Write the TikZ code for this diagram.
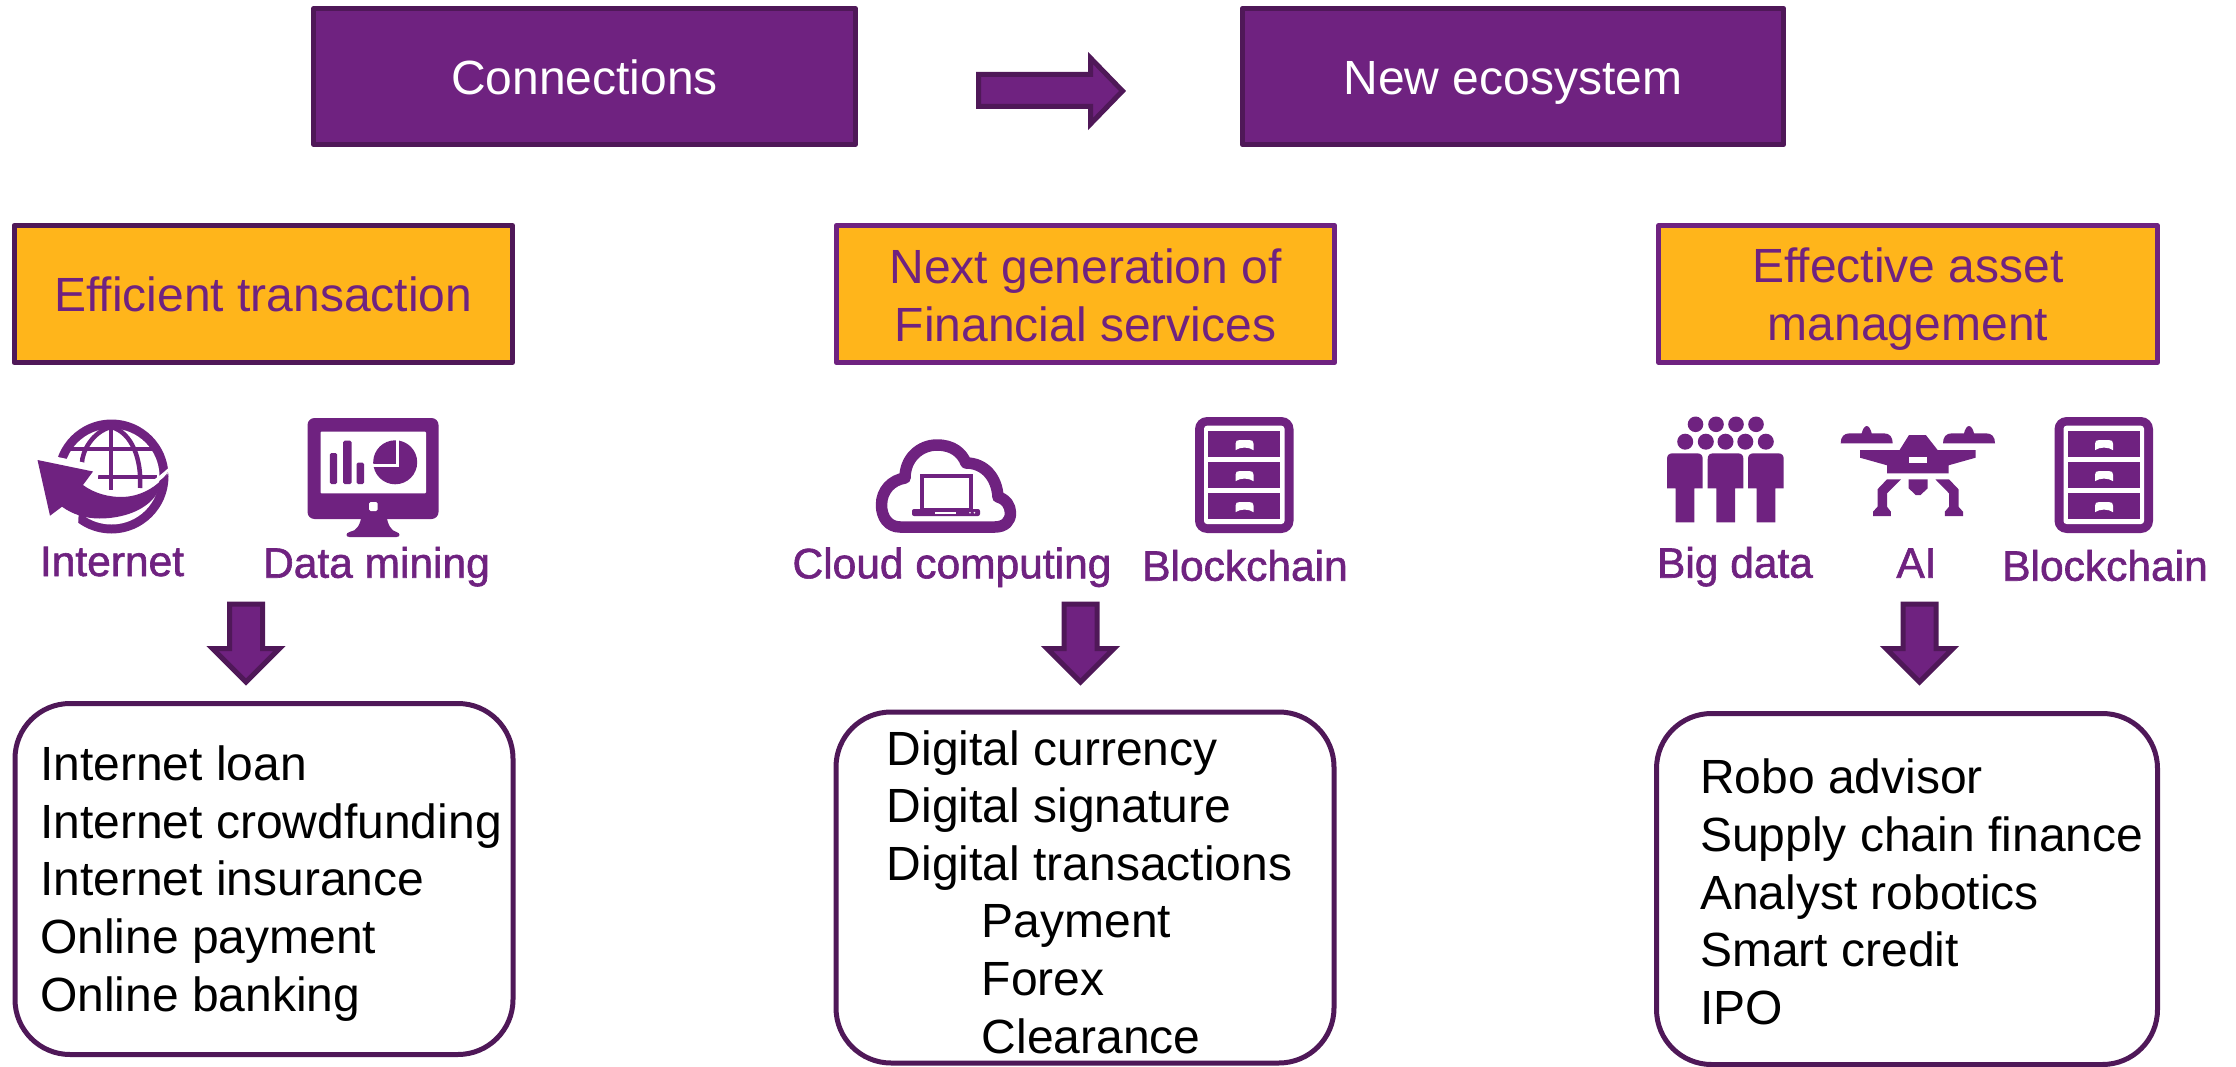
\documentclass[tikz,border=0pt]{standalone}
\usepackage{fontspec}
\setmainfont{Liberation Sans}
\newfontfamily\labfont[FakeBold=1.4]{Liberation Sans}
\definecolor{pur}{HTML}{6F2280}
\definecolor{dpur}{HTML}{4F1858}
\definecolor{yel}{HTML}{FFB51B}
\tikzset{
  x=1pt,y=-1pt,
  headbox/.style={draw=dpur,fill=pur,line width=5pt,line join=round,text=white,minimum width=541.5pt,minimum height=136pt,inner sep=0pt,font=\fontsize{48}{57.6}\selectfont,text height=36pt,text depth=0pt},
  yelbox/.style={draw=pur,fill=yel,line width=5pt,line join=round,text=pur,align=center,minimum width=498.5pt,minimum height=137pt,inner sep=0pt,font=\fontsize{48}{58}\selectfont},
  yeltext/.style={align=center,inner sep=0pt,text=pur,font=\fontsize{48}{58}\selectfont},
  listbox/.style={draw=dpur,fill=white,line width=5pt,rounded corners=55pt,minimum width=498pt,minimum height=351pt,inner sep=0pt},
  listtext/.style={anchor=west,align=left,inner sep=0pt,text=black,font=\fontsize{48}{57.6}\selectfont},
  iconlabel/.style={anchor=base,inner sep=0pt,text=pur,font=\labfont\fontsize{42.5}{48}\selectfont},
  blockarrow/.style={fill=pur,draw=dpur,line width=5pt,miter limit=10},
  pics/downblock/.style={code={
    \path[blockarrow] (-16.5,0)--(16.5,0)--(16.5,44.5)--(33.5,44.5)--(0,78)--(-33.5,44.5)--(-16.5,44.5)--cycle;
  }},
  pics/cabinet/.style={code={
    \fill[pur,rounded corners=12pt] (0,0) rectangle (98.5,116);
    \fill[white,rounded corners=3pt] (9,8.7) rectangle (89.5,107);
    \foreach \t/\b in {13.7/39.7,44.7/71,75.7/102.3}{
      \fill[pur] (13,\t) rectangle (85,\b);
      \fill[white] (40.5,\t+19.5) -- (40.5,\t+13) .. controls (40.5,\t+10) and (42,\t+9.5) .. (44,\t+9.5) -- (55,\t+9.5) .. controls (57,\t+9.5) and (58.5,\t+10) .. (58.5,\t+13) -- (58.5,\t+19.5) .. controls (54,\t+16) and (45,\t+16) .. (40.5,\t+19.5) -- cycle;
    }
  }}
}
\begin{document}
\begin{tikzpicture}
\useasboundingbox (0,0) rectangle (2236,1067);
% top boxes
\node[headbox] (conn) at (584.5,76.5) {Connections};
\node[headbox] (eco) at (1513,76.5) {New ecosystem};
\path[blockarrow] (978.5,74.5)--(1090.5,74.5)--(1090.5,58)--(1122.5,91)--(1090.5,124)--(1090.5,106.5)--(978.5,106.5)--cycle;
% yellow boxes
\node[yelbox,draw=dpur] (eff) at (263.25,294) {Efficient transaction};
\node[yelbox] (next) at (1085.5,294) {};
\node[yeltext] (nexttxt) at (1085.5,295.5) {Next generation of\\Financial services};
\node[yelbox] (asset) at (1908,294) {};
\node[yeltext] (assettxt) at (1908,299.5) {Effective asset\\management};
% globe
\begin{scope}
  \fill[pur] (111.5,476.5) circle[radius=57];
  \fill[white] (111.5,476.5) circle[radius=48];
  \begin{scope}
    \clip (111.5,476.5) circle[radius=50];
    \draw[pur,line width=4.5pt] (111,420)--(111,490);
    \draw[pur,line width=4.5pt] (60,449)--(165,449);
    \draw[pur,line width=4.5pt] (98,477)--(157,477);
    \draw[pur,line width=4.5pt] (111,427) .. controls (92,432) and (82,452) .. (82,463);
    \draw[pur,line width=4.5pt] (111,427) .. controls (132,432) and (142,460) .. (140,488);
  \end{scope}
  \fill[white] (25,450)--(100,466)--(97,482)--(80,490)--(78,526)--(70,545)--(25,545)--cycle;
  \draw[white,line width=4pt] (175,464) .. controls (168,472) and (160,478) .. (150,485);
  \fill[pur] (37.5,460) -- (93,471.5) -- (83,485) .. controls (95,494) and (110,497) .. (121,497) .. controls (140,497) and (158,487) .. (168,472) -- (156,495) .. controls (145,511) and (122,518.5) .. (99.5,518.5) .. controls (85,518.5) and (72,514) .. (62,506.7) -- (50,515.7) -- cycle;
\end{scope}
% monitor
\begin{scope}[shift={(1.5,0)}]
\fill[pur] (360,515) .. controls (359,525) and (355,531) .. (348,532) .. controls (344,533) and (344,537) .. (348,537) -- (395,537) .. controls (399,537) and (399,533) .. (395,532) .. controls (390,531) and (386,525) .. (385,515) -- cycle;
\fill[pur,rounded corners=7pt] (306,418) rectangle (437,519);
\fill[white,rounded corners=1pt] (319,431.7) rectangle (424.5,493.3);
\fill[white,rounded corners=1.5pt] (367.5,502) rectangle (376,511);
\fill[pur,rounded corners=1.5pt] (328.3,453) rectangle (335.7,484);
\fill[pur,rounded corners=1.5pt] (341.6,440.7) rectangle (350,484);
\fill[pur,rounded corners=1.5pt] (355,462.7) rectangle (362.5,484);
\fill[pur] (393.7,462.3) circle[radius=22];
\draw[white,line width=3pt] (396.4,438)--(396.4,465)--(370,465);
\end{scope}
% cloud
\draw[pur,fill=white,line width=11.5pt,line join=round] (900,527) .. controls (888,527) and (881.5,517) .. (881.5,505) .. controls (881.5,490) and (892,480) .. (905,478) .. controls (905,458) and (920,445) .. (937,445) .. controls (953,445) and (962,453) .. (966,463) .. controls (985,463) and (997,478) .. (998,497) .. controls (1006,499) and (1010.5,506) .. (1010.5,513) .. controls (1010.5,521) and (1005,527) .. (995,527) -- cycle;
\draw[pur,fill=white,line width=4pt] (921.7,476) rectangle (970.5,510);
\fill[pur,rounded corners=2pt] (912,509) rectangle (980,516);
\fill[white] (935,511.5) rectangle (956,513.5);
\fill[white] (970,512.7) circle[radius=.9] (974.4,512.7) circle[radius=.9];
% cabinets
\pic (cabA) at (1195,417) {cabinet};
\pic (cabB) at (2054.5,417) {cabinet};
% people
\foreach \cx in {1695.5,1716,1736,1756}{\fill[pur] (\cx,424.3) circle[radius=7.8];}
\foreach \cx in {1685.2,1705.8,1725.5,1745.3,1765.8}{\fill[pur] (\cx,441.7) circle[radius=8];}
\foreach \lx in {1667,1707.7,1748}{
  \fill[pur] (\lx,488.3) -- (\lx,459) .. controls (\lx,455) and (\lx+2,453.3) .. (\lx+6,453.3) -- (\lx+29.7,453.3) .. controls (\lx+33.7,453.3) and (\lx+35.7,455) .. (\lx+35.7,459) -- (\lx+35.7,488.3) -- (\lx+27.4,488.3) -- (\lx+27.4,522.3) -- (\lx+8.7,522.3) -- (\lx+8.7,488.3) -- cycle;
}
% drone
\foreach \rx in {1840.7,1943}{
  \fill[pur] (\rx,443.3) .. controls (\rx,437) and (\rx+3,433.3) .. (\rx+9,433.3) -- (\rx+21,433.3) .. controls (\rx+22,429) and (\rx+24,426) .. (\rx+26,426) .. controls (\rx+28,426) and (\rx+30,429) .. (\rx+31,433.3) -- (\rx+43,433.3) .. controls (\rx+49,433.3) and (\rx+52,437) .. (\rx+52,443.3) -- cycle;
}
\fill[pur] (1909,435)--(1925.8,435)--(1937.6,450)--(1975.6,450)--(1975.6,457.7)--(1948.6,465.3)--(1948.6,473.3)--(1887,473.3)--(1887,465.3)--(1860,457.7)--(1860,450)--(1899.6,450)--cycle;
\fill[white] (1908.7,456.7) rectangle (1927,463.3);
\fill[pur] (1908.7,479.3)--(1927.7,479.3)--(1927.7,488.3)--(1920.5,495)--(1915.6,495)--(1908.7,488.3)--cycle;
\fill[pur] (1887,479.3)--(1901,479.3)--(1887,493.3)--(1887,506.7)--(1890.9,511.7)--(1890.9,516)--(1873,516)--(1873,511.7)--(1877.5,506.7)--(1877.5,489.3)--cycle;
\fill[pur] (1949,479.3)--(1935.3,479.3)--(1949,493.3)--(1949,506.7)--(1944.8,511.7)--(1944.8,516)--(1963,516)--(1963,511.7)--(1958.5,506.7)--(1958.5,489.3)--cycle;
% icon labels
\node[iconlabel] (lint) at (112,576) {Internet};
\node[iconlabel] (ldata) at (376.5,577.7) {Data mining};
\node[iconlabel] (lcloud) at (952,578.3) {Cloud computing};
\node[iconlabel] (lbcA) at (1245,580.7) {Blockchain};
\node[iconlabel] (lbig) at (1735,577.7) {Big data};
\node[iconlabel] (lai) at (1916.5,577.7) {AI};
\node[iconlabel] (lbcB) at (2105,580.7) {Blockchain};
% down arrows
\pic (arrA) at (246,604) {downblock};
\pic (arrB) at (1080.5,604) {downblock};
\pic (arrC) at (1919.5,604) {downblock};
% list boxes
\node[listbox] (boxA) at (264,879) {};
\node[listbox] (boxB) at (1085,887.5) {};
\node[listbox,minimum width=501pt] (boxC) at (1907,889) {};
\node[listtext] (txtA) at (40,883.5) {Internet loan\\Internet crowdfunding\\Internet insurance\\Online payment\\Online banking};
\node[listtext] (txtB) at (886.5,892) {Digital currency\\Digital signature\\Digital transactions\\\hspace{95pt}Payment\\\hspace{95pt}Forex\\\hspace{95pt}Clearance};
\node[listtext] (txtC) at (1700,892) {Robo advisor\\Supply chain finance\\Analyst robotics\\Smart credit\\IPO};
\end{tikzpicture}
\end{document}
